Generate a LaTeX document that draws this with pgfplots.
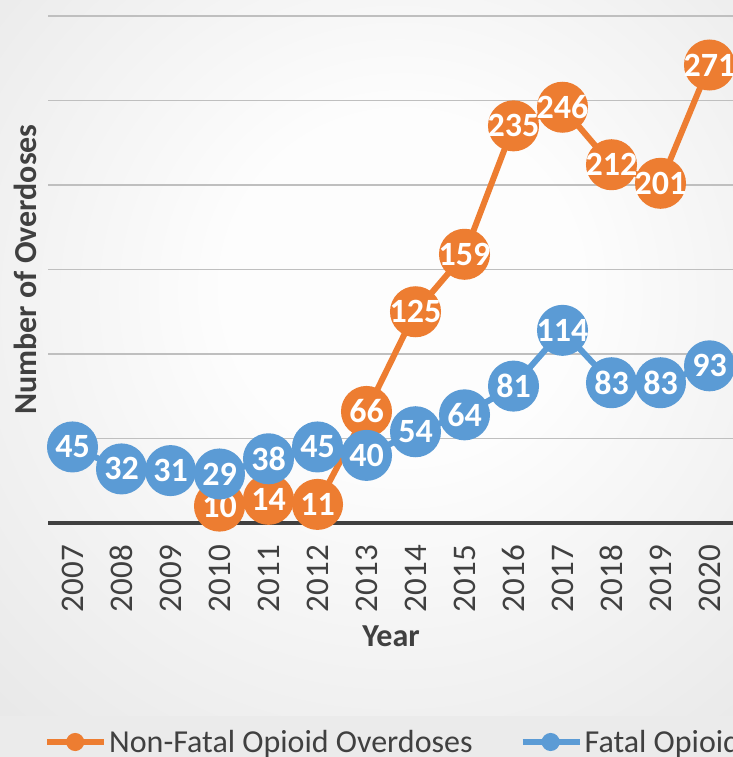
\documentclass[border=0pt]{standalone}
\usepackage{pgfplots}
\pgfplotsset{compat=1.18}
\usepackage{fontspec}
\setmainfont{Carlito}
\definecolor{oorange}{HTML}{ED7D31}
\definecolor{oblue}{HTML}{5B9BD5}
\definecolor{bgin}{HTML}{FDFDFD}
\definecolor{bgout}{HTML}{D0D0D0}
\definecolor{gridc}{HTML}{BFBFBF}
\definecolor{axc}{HTML}{404040}
\definecolor{txtc}{HTML}{404040}
\pgfdeclareradialshading{bgshade}{\pgfpoint{3bp}{6bp}}{color(0bp)=(bgin); color(12bp)=(bgin); color(70bp)=(bgout)}
\begin{document}
\begin{tikzpicture}
\path[use as bounding box] (0,0) rectangle (733bp,757bp);
\clip (0,0) rectangle (733bp,757bp);
\fill[black!8] (0,0) rectangle (733bp,41bp);
\shade[shading=bgshade] (0,41bp) rectangle (733bp,757bp);
\begin{axis}[
  at={(48bp,234bp)}, anchor=south west,
  scale only axis, width=686bp, height=507bp,
  xmin=2006.5, xmax=2020.5, ymin=0, ymax=300,
  clip=false,
  axis line style={draw=none},
  major tick length=0pt,
  xtick={2007,...,2020},
  ytick={50,100,...,300},
  yticklabels={},
  ymajorgrids,
  grid style={draw=gridc, line width=1.5bp},
  extra y ticks={0}, extra y tick labels={},
  extra y tick style={grid style={draw=axc, line width=4bp}},
  xticklabel style={rotate=90, anchor=east, font=\fontsize{33bp}{33bp}\selectfont, text=txtc, inner sep=0pt},
  xticklabel shift=22bp,
  /pgf/number format/set thousands separator={},
  /pgf/number format/assume math mode=true,
  xlabel={Year}, ylabel={Number of Overdoses},
  every axis x label/.style={at={(axis description cs:0.5,0)}, anchor=center, yshift=-113bp, font=\bfseries\fontsize{32bp}{32bp}\selectfont, text=txtc},
  every axis y label/.style={at={(axis description cs:0,0.5)}, rotate=90, anchor=center, yshift=23bp, font=\bfseries\fontsize{32bp}{32bp}\selectfont, text=txtc},
  legend columns=2,
  legend style={at={(-4bp,-219bp)}, anchor=west, draw=none, fill=none, font=\fontsize{32bp}{32bp}\selectfont, text=txtc, inner sep=0pt, /tikz/every even column/.append style={column sep=45bp}},
  legend cell align=left,
  legend image code/.code={\draw[mark repeat=2,mark phase=2,#1,mark size=6bp] plot coordinates {(0bp,0bp) (28bp,0bp) (57bp,0bp)};},
  nodes near coords,
  every node near coord/.append style={anchor=center, text=white, font=\bfseries\fontsize{34bp}{34bp}\selectfont, inner sep=0pt},
]
\addplot[color=oorange, line width=6bp, mark=*, mark size=22.5bp, mark options={draw=none, fill=oorange}] coordinates {
(2010,10) (2011,14) (2012,11) (2013,66) (2014,125) (2015,159) (2016,235) (2017,246) (2018,212) (2019,201) (2020,271)};
\addlegendentry{Non-Fatal Opioid Overdoses}
\addplot[color=oblue, line width=6bp, mark=*, mark size=22.5bp, mark options={draw=none, fill=oblue}] coordinates {
(2007,45) (2008,32) (2009,31) (2010,29) (2011,38) (2012,45) (2013,40) (2014,54) (2015,64) (2016,81) (2017,114) (2018,83) (2019,83) (2020,93)};
\addlegendentry{Fatal Opioid Overdoses}
\end{axis}
\end{tikzpicture}
\end{document}
